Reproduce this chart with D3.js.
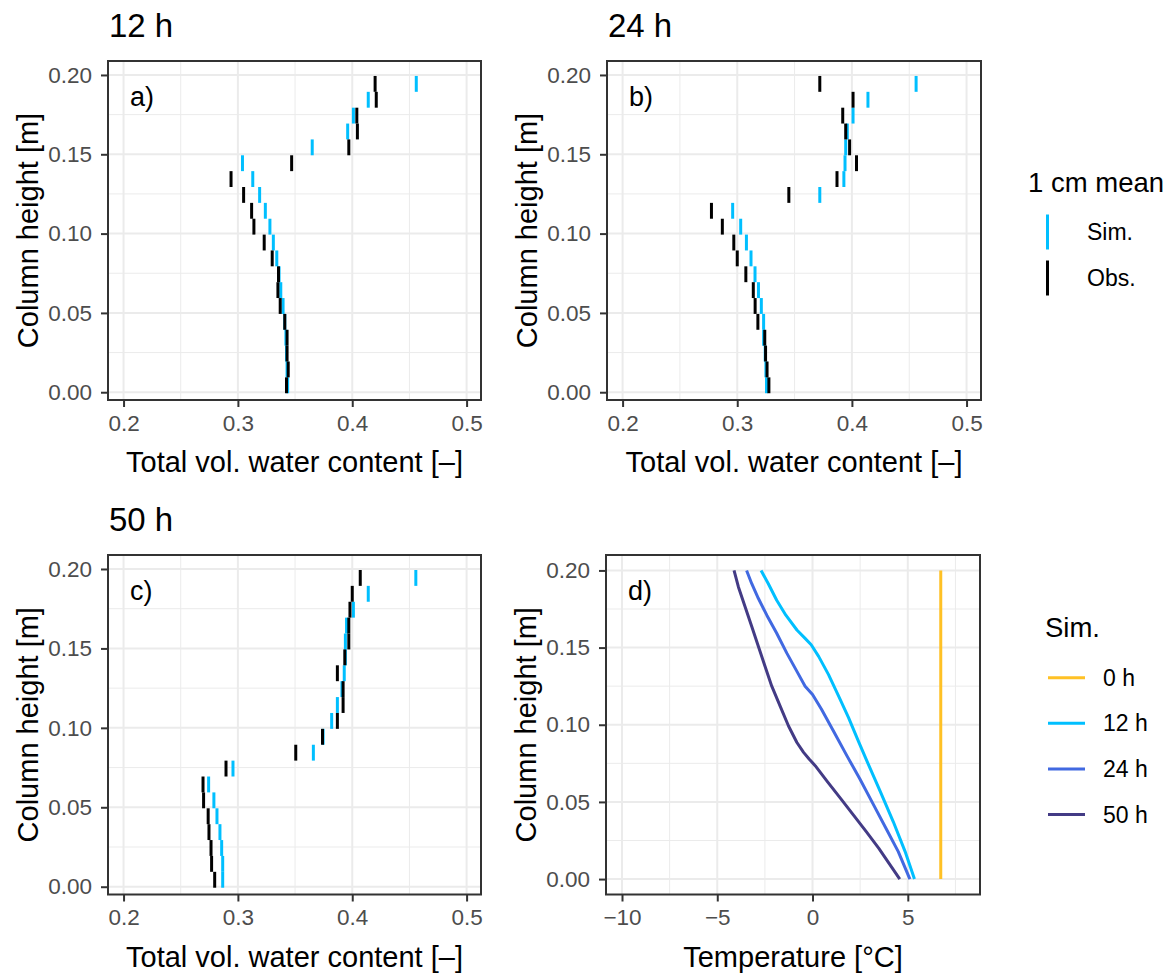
<!DOCTYPE html>
<html>
<head>
<meta charset="utf-8">
<script src="https://cdn.jsdelivr.net/npm/d3@7"></script>
<style>
  body { margin: 0; background: #fff; }
  svg text { font-family: "Liberation Sans", Arial, sans-serif; }
</style>
</head>
<body>
<div id="chart"></div>
<script>
// lower edge of each 1 cm layer, top to bottom
var layers = [0.19, 0.18, 0.17, 0.16, 0.15, 0.14, 0.13, 0.12, 0.11, 0.10,
              0.09, 0.08, 0.07, 0.06, 0.05, 0.04, 0.03, 0.02, 0.01, 0.00];

var sim12 = [0.456, 0.414, 0.401, 0.396, 0.365, 0.304, 0.313, 0.319, 0.324, 0.328,
             0.331, 0.334, 0.336, 0.3375, 0.3395, 0.341, 0.342, 0.3425, 0.343, 0.3435];
var obs12 = [0.420, 0.421, 0.404, 0.4045, 0.397, 0.347, 0.294, 0.305, 0.312, 0.314,
             0.323, 0.330, 0.3355, 0.335, 0.337, 0.341, 0.343, 0.343, 0.344, 0.3425];

var sim24 = [0.456, 0.414, 0.401, 0.396, 0.3946, 0.394, 0.393, 0.372, 0.296, 0.303,
             0.308, 0.312, 0.3155, 0.3185, 0.321, 0.323, 0.323, 0.3244, 0.325, 0.3255];
var obs24 = [0.372, 0.401, 0.392, 0.3946, 0.398, 0.404, 0.387, 0.345, 0.2775, 0.287,
             0.297, 0.300, 0.3075, 0.314, 0.3156, 0.318, 0.324, 0.3247, 0.326, 0.3276];

var sim50 = [0.4556, 0.414, 0.401, 0.395, 0.394, 0.394, 0.393, 0.391, 0.387, 0.382,
             0.3745, 0.366, 0.2957, 0.2744, 0.279, 0.2817, 0.2843, 0.2858, 0.2867, 0.2867];
var obs50 = [0.407, 0.400, 0.398, 0.397, 0.397, 0.3935, 0.387, 0.392, 0.392, 0.387,
             0.374, 0.3506, 0.2896, 0.2695, 0.270, 0.274, 0.2747, 0.2765, 0.277, 0.2797];

// temperature profiles (panel d)
var hT0 = [0, 0.2];
var temp0 = [6.73, 6.73];
var hT12 = [0.2, 0.1914, 0.1807, 0.171, 0.1614, 0.156, 0.1518, 0.1443, 0.1325, 0.1185,
            0.1046, 0.0896, 0.0746, 0.0564, 0.0371, 0.0178, 0];
var temp12 = [-2.70, -2.32, -1.88, -1.40, -0.82, -0.39, -0.07, 0.32, 0.84, 1.37,
              1.89, 2.40, 2.92, 3.57, 4.24, 4.86, 5.35];
var hT24 = [0.2, 0.1914, 0.1818, 0.171, 0.1593, 0.1464, 0.1346, 0.125, 0.1196, 0.11,
            0.095, 0.08, 0.065, 0.0489, 0.0328, 0.0178, 0];
var temp24 = [-3.46, -3.19, -2.84, -2.40, -1.88, -1.35, -0.82, -0.39, 0, 0.47,
              1.14, 1.80, 2.48, 3.17, 3.86, 4.50, 5.11];
var hT50 = [0.2, 0.1893, 0.1764, 0.1636, 0.1507, 0.1378, 0.125, 0.1121, 0.0992, 0.0885,
            0.0821, 0.0778, 0.0735, 0.0628, 0.0521, 0.0414, 0.0307, 0.0199, 0];
var temp50 = [-4.12, -3.89, -3.54, -3.19, -2.84, -2.49, -2.14, -1.70, -1.26, -0.82,
              -0.47, -0.18, 0.14, 0.80, 1.48, 2.15, 2.82, 3.48, 4.58];

var wcTicks = [0.2, 0.3, 0.4, 0.5], wcMinor = [0.25, 0.35, 0.45];
var hTicks = [0, 0.05, 0.10, 0.15, 0.20], hMinor = [0.025, 0.075, 0.125, 0.175];
var tTicks = [-10, -5, 0, 5], tMinor = [-7.5, -2.5, 2.5, 7.5];

var simColor = "#00BFFF", obsColor = "#000000";
var timeLabels = ["0 h", "12 h", "24 h", "50 h"];
var timeColors = ["#FFC125", "#00BFFF", "#4169E1", "#433B85"];

var width = 1174, height = 973;
var svg = d3.select("#chart").append("svg")
    .attr("width", width)
    .attr("height", height);

function fmt2(d) { return d3.format(".2f")(d); }
function fmtT(d) { return d < 0 ? "\u2212" + Math.abs(d) : "" + d; }

function panel(box, xDomain, yDomain, xT, xM, yT, yM, xFmt, xTitle, tag, title) {
  var x = d3.scaleLinear().domain(xDomain).range([box.left, box.right]);
  var y = d3.scaleLinear().domain(yDomain).range([box.bottom, box.top]);
  var g = svg.append("g");

  g.append("rect").attr("x", box.left).attr("y", box.top)
      .attr("width", box.right - box.left).attr("height", box.bottom - box.top)
      .style("fill", "#fff");

  // grid
  g.selectAll(null).data(xM).enter().append("line")
      .attr("x1", x).attr("x2", x).attr("y1", box.top).attr("y2", box.bottom)
      .style("stroke", "#EBEBEB").style("stroke-width", 1);
  g.selectAll(null).data(yM).enter().append("line")
      .attr("y1", y).attr("y2", y).attr("x1", box.left).attr("x2", box.right)
      .style("stroke", "#EBEBEB").style("stroke-width", 1);
  g.selectAll(null).data(xT).enter().append("line")
      .attr("x1", x).attr("x2", x).attr("y1", box.top).attr("y2", box.bottom)
      .style("stroke", "#EBEBEB").style("stroke-width", 2);
  g.selectAll(null).data(yT).enter().append("line")
      .attr("y1", y).attr("y2", y).attr("x1", box.left).attr("x2", box.right)
      .style("stroke", "#EBEBEB").style("stroke-width", 2);

  // axes
  var xAxis = g.append("g")
      .attr("transform", "translate(0," + box.bottom + ")")
      .call(d3.axisBottom(x).tickValues(xT).tickFormat(xFmt).tickSize(7).tickPadding(8));
  var yAxis = g.append("g")
      .attr("transform", "translate(" + box.left + ",0)")
      .call(d3.axisLeft(y).tickValues(yT).tickFormat(fmt2).tickSize(7).tickPadding(9));
  [xAxis, yAxis].forEach(function(a) {
    a.select(".domain").remove();
    a.selectAll(".tick line").style("stroke", "#333333").style("stroke-width", 2);
    a.selectAll(".tick text").style("fill", "#4D4D4D").style("font-size", "22.5px")
      .style("font-family", "'Liberation Sans', Arial, sans-serif");
  });

  g.append("text")
      .attr("x", (box.left + box.right) / 2)
      .attr("y", box.bottom + 72)
      .attr("text-anchor", "middle")
      .style("font-size", "29px")
      .text(xTitle);

  g.append("text")
      .attr("transform", "translate(" + (box.left - 70) + "," + ((box.top + box.bottom) / 2) + ") rotate(-90)")
      .attr("text-anchor", "middle")
      .style("font-size", "29px")
      .text("Column height [m]");

  g.append("text")
      .attr("x", box.left + 22)
      .attr("y", box.top + 45)
      .style("font-size", "27px")
      .text(tag);

  if (title) {
    g.append("text")
        .attr("x", box.left + 1)
        .attr("y", box.top - 24)
        .style("font-size", "33px")
        .text(title);
  }

  var marks = svg.append("g");
  return {x: x, y: y, g: marks, box: box};
}

function border(p) {
  svg.append("rect").attr("x", p.box.left).attr("y", p.box.top)
      .attr("width", p.box.right - p.box.left).attr("height", p.box.bottom - p.box.top)
      .style("fill", "none").style("stroke", "#333333").style("stroke-width", 2);
}

function layerMarks(p, values, color) {
  p.g.selectAll(null).data(values).enter().append("line")
      .attr("x1", function(d) { return p.x(d); })
      .attr("x2", function(d) { return p.x(d); })
      .attr("y1", function(d, i) { return p.y(layers[i] + 0.01) + 1; })
      .attr("y2", function(d, i) { return p.y(layers[i]) + 1; })
      .style("stroke", color).style("stroke-width", 3);
}

var wcDomain = [0.1864, 0.5126];
var hDomain = [-0.0049, 0.2088];
var wcTitle = "Total vol. water content [\u2013]";

var pa = panel({left: 108, right: 481, top: 61, bottom: 400}, wcDomain, hDomain,
    wcTicks, wcMinor, hTicks, hMinor, d3.format(".1f"), wcTitle, "a)", "12 h");
layerMarks(pa, sim12, simColor);
layerMarks(pa, obs12, obsColor);
border(pa);

var pb = panel({left: 607, right: 981, top: 61, bottom: 400}, wcDomain, hDomain,
    wcTicks, wcMinor, hTicks, hMinor, d3.format(".1f"), wcTitle, "b)", "24 h");
layerMarks(pb, sim24, simColor);
layerMarks(pb, obs24, obsColor);
border(pb);

var pc = panel({left: 108, right: 481, top: 555, bottom: 894.5}, wcDomain, hDomain,
    wcTicks, wcMinor, hTicks, hMinor, d3.format(".1f"), wcTitle, "c)", "50 h");
layerMarks(pc, sim50, simColor);
layerMarks(pc, obs50, obsColor);
border(pc);

var pd = panel({left: 606, right: 980, top: 555, bottom: 894.5}, [-10.84, 8.79], [-0.01, 0.21],
    tTicks, tMinor, hTicks, hMinor, fmtT, "Temperature [\u00B0C]", "d)", null);
var profiles = [[hT0, temp0], [hT12, temp12], [hT24, temp24], [hT50, temp50]];
var line = d3.line()
    .x(function(d) { return pd.x(d[1]); })
    .y(function(d) { return pd.y(d[0]); });
profiles.forEach(function(pr, k) {
  var pts = pr[0].map(function(h, i) { return [h, pr[1][i]]; });
  pd.g.append("path").attr("d", line(pts))
      .style("fill", "none").style("stroke", timeColors[k]).style("stroke-width", 3)
      .style("stroke-linejoin", "round");
});
border(pd);

// legend: 1 cm mean
var lg1 = svg.append("g");
lg1.append("text").attr("x", 1028).attr("y", 192).style("font-size", "27.5px").text("1 cm mean");
[["Sim.", simColor, 232], ["Obs.", obsColor, 278]].forEach(function(r) {
  lg1.append("line").attr("x1", 1047.5).attr("x2", 1047.5).attr("y1", r[2] - 17.5).attr("y2", r[2] + 17.5)
      .style("stroke", r[1]).style("stroke-width", 3);
  lg1.append("text").attr("x", 1087).attr("y", r[2] + 8).style("font-size", "23px").text(r[0]);
});

// legend: Sim.
var lg2 = svg.append("g");
lg2.append("text").attr("x", 1045).attr("y", 637).style("font-size", "27.5px").text("Sim.");
timeLabels.forEach(function(t, i) {
  var cy = 677.7 + i * 45.6;
  lg2.append("line").attr("x1", 1048).attr("x2", 1085).attr("y1", cy).attr("y2", cy)
      .style("stroke", timeColors[i]).style("stroke-width", 3);
  lg2.append("text").attr("x", 1103).attr("y", cy + 8).style("font-size", "23px").text(t);
});
</script>
</body>
</html>
